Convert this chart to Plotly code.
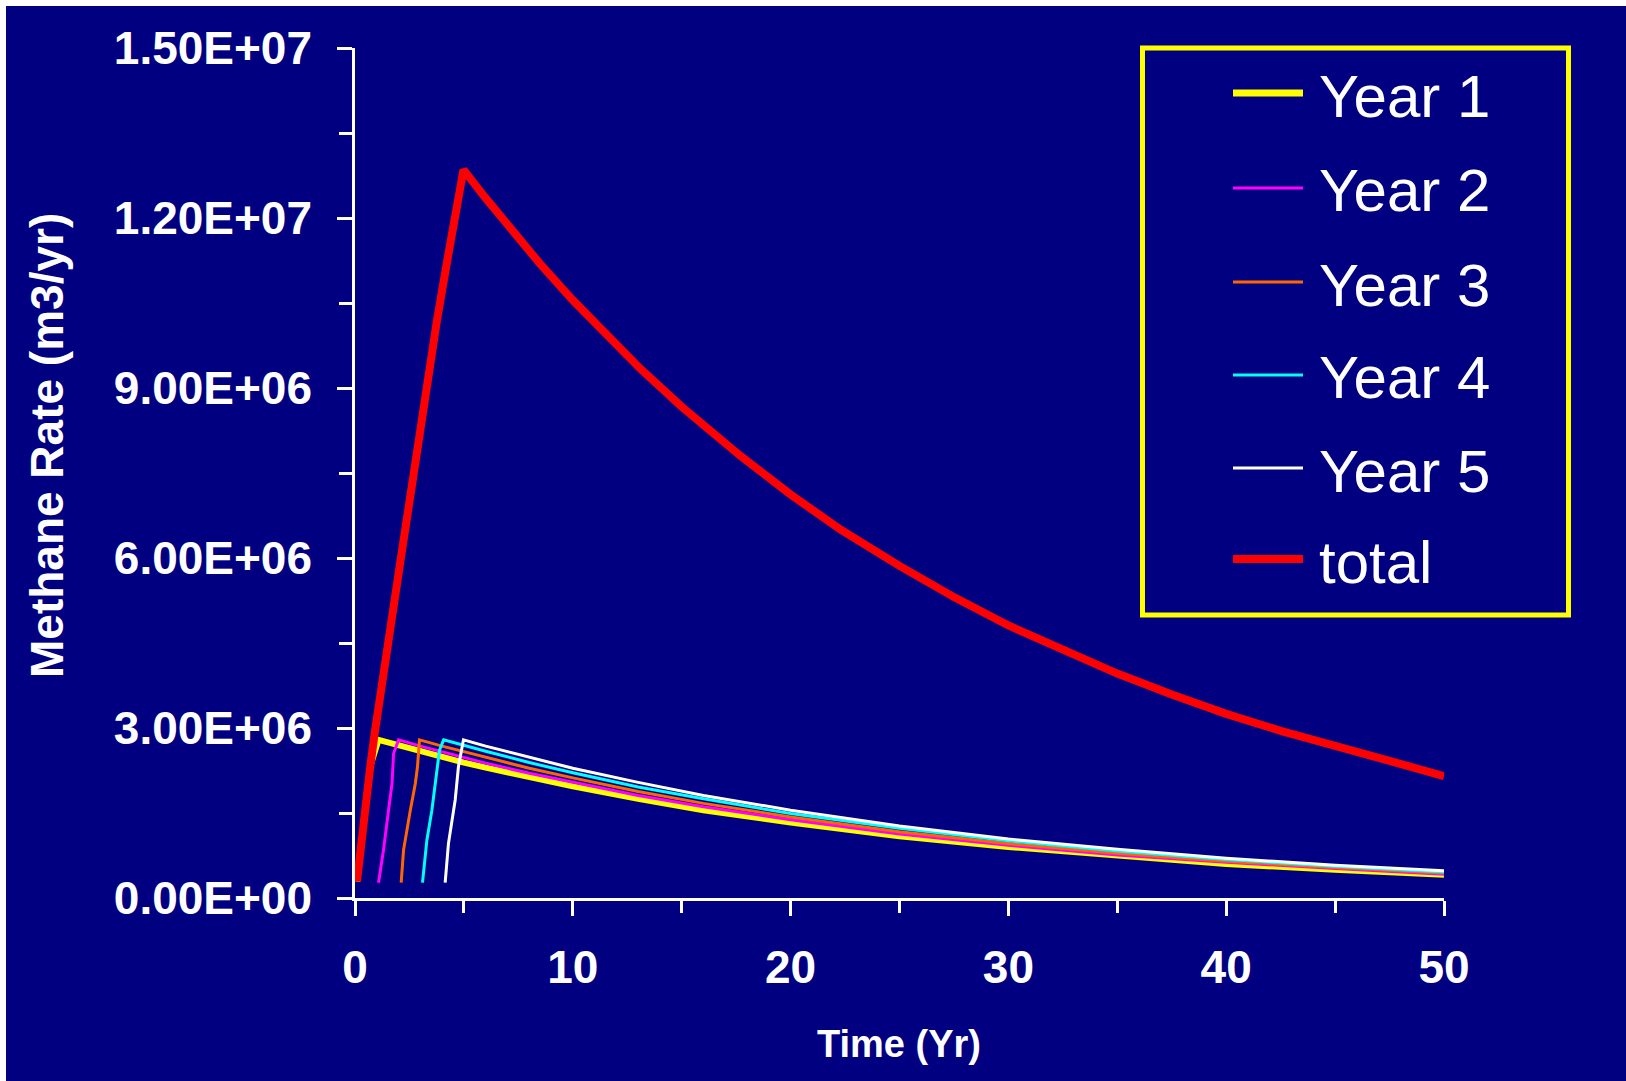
import plotly.graph_objects as go

# ---------------- data (rates in m3/yr) ----------------
year1_t = [0.09, 0.32, 0.70, 1.08, 2, 3, 4, 5, 6, 8, 10, 13, 16, 20, 25, 30, 35, 40, 45, 50]
year1_v = [0.29e6, 1.14e6, 2.32e6, 2.79e6, 2.69e6, 2.59e6, 2.49e6, 2.39e6, 2.30e6, 2.13e6,
           1.97e6, 1.75e6, 1.55e6, 1.33e6, 1.09e6, 0.90e6, 0.74e6, 0.60e6, 0.50e6, 0.41e6]

year2_t = [1.08, 1.31, 1.54, 1.70, 1.77, 2.0, 3, 4, 5, 6, 8, 10, 13, 16, 20, 25, 30, 35, 40, 45, 50]
year2_v = [0.27e6, 0.85e6, 1.55e6, 2.02e6, 2.55e6, 2.79e6, 2.68e6, 2.58e6, 2.48e6, 2.38e6, 2.20e6,
           2.04e6, 1.81e6, 1.61e6, 1.38e6, 1.13e6, 0.93e6, 0.76e6, 0.63e6, 0.52e6, 0.42e6]

year3_t = [2.12, 2.23, 2.54, 2.77, 2.87, 2.96, 4, 5, 6, 8, 10, 13, 16, 20, 25, 30, 35, 40, 45, 50]
year3_v = [0.27e6, 0.85e6, 1.55e6, 2.02e6, 2.32e6, 2.79e6, 2.68e6, 2.58e6, 2.48e6, 2.29e6,
           2.12e6, 1.88e6, 1.67e6, 1.43e6, 1.17e6, 0.96e6, 0.79e6, 0.65e6, 0.54e6, 0.44e6]

year4_t = [3.10, 3.30, 3.53, 3.76, 3.88, 4.07, 5, 6, 8, 10, 13, 16, 20, 25, 30, 35, 40, 45, 50]
year4_v = [0.27e6, 1.02e6, 1.55e6, 2.32e6, 2.61e6, 2.79e6, 2.69e6, 2.59e6, 2.39e6, 2.21e6,
           1.96e6, 1.75e6, 1.49e6, 1.23e6, 1.01e6, 0.83e6, 0.68e6, 0.56e6, 0.46e6]

year5_t = [4.14, 4.29, 4.60, 4.75, 4.95, 4.98, 6, 8, 10, 13, 16, 20, 25, 30, 35, 40, 45, 50]
year5_v = [0.27e6, 0.96e6, 1.73e6, 2.32e6, 2.73e6, 2.79e6, 2.68e6, 2.48e6, 2.29e6, 2.04e6,
           1.81e6, 1.55e6, 1.27e6, 1.04e6, 0.86e6, 0.70e6, 0.58e6, 0.48e6]

total_t = [0.09, 0.32, 0.70, 0.90, 1.25, 1.75, 2.15, 2.55, 2.92, 3.36, 3.75, 4.20, 4.52, 4.98,
           6, 7, 8.5, 10, 11.5, 13.1, 15, 17.7, 20, 22.3, 25, 27.5, 30, 32.5, 35, 37.5, 40,
           42.5, 45, 47.5, 50]
total_v = [0.29e6, 1.14e6, 2.32e6, 2.90e6, 3.74e6, 5.09e6, 6.11e6, 7.12e6, 8.13e6, 9.14e6,
           10.16e6, 11.17e6, 11.85e6, 12.85e6, 12.35e6, 11.87e6, 11.19e6, 10.55e6, 9.95e6,
           9.34e6, 8.67e6, 7.80e6, 7.12e6, 6.50e6, 5.86e6, 5.31e6, 4.81e6, 4.37e6, 3.96e6,
           3.59e6, 3.25e6, 2.95e6, 2.67e6, 2.42e6, 2.15e6]

series_names = ["Year 1", "Year 2", "Year 3", "Year 4", "Year 5", "total"]

y_tickvals = [0, 3e6, 6e6, 9e6, 12e6, 15e6]
y_ticktext = ["0.00E+00", "3.00E+06", "6.00E+06", "9.00E+06", "1.20E+07", "1.50E+07"]
x_tickvals = [0, 10, 20, 30, 40, 50]
x_ticktext = ["0", "10", "20", "30", "40", "50"]

# ---------------- styling ----------------
W, H = 1626, 1081
L, R, T, B = 355, 182, 48, 183
PW, PH = W - L - R, H - T - B
NAVY = "#000080"
FONT = "Liberation Sans, Arial, sans-serif"

colors = ["#FFFF00", "#FF00FF", "#FF6600", "#00FFFF", "#FFFFFF", "#FF0000"]
widths = [6, 3, 3, 3, 3, 8]
legend_widths = [7, 3, 3, 3, 3, 8]

def px(xp):
    return (xp - L) / PW

def py(yp):
    return (H - B - yp) / PH

data = [(year1_t, year1_v), (year2_t, year2_v), (year3_t, year3_v),
        (year4_t, year4_v), (year5_t, year5_v), (total_t, total_v)]

fig = go.Figure()
for (t, v), name, c, w in zip(data, series_names, colors, widths):
    fig.add_trace(go.Scatter(x=t, y=v, mode="lines", name=name, showlegend=False,
                             line=dict(color=c, width=w)))

tickfont = dict(family=FONT, size=46, color="white", weight="bold")

fig.update_layout(
    width=W, height=H,
    margin=dict(l=L, r=R, t=T, b=B, pad=0),
    paper_bgcolor=NAVY, plot_bgcolor=NAVY,
    showlegend=False,
    xaxis=dict(range=[0, 50], tickmode="array", tickvals=x_tickvals, ticktext=x_ticktext,
               showgrid=False, zeroline=False, showline=True, linecolor="white", linewidth=2.5,
               ticks="outside", ticklen=15, tickwidth=2.5, tickcolor="white",
               tickfont=tickfont, ticklabelstandoff=12,
               minor=dict(dtick=5, ticks="outside", ticklen=12, tickwidth=2.5,
                          tickcolor="white", showgrid=False)),
    yaxis=dict(range=[0, 1.5e7], tickmode="array", tickvals=y_tickvals, ticktext=y_ticktext,
               showgrid=False, zeroline=False, showline=True, linecolor="white", linewidth=2.5,
               ticks="outside", ticklen=15, tickwidth=2.5, tickcolor="white",
               tickfont=tickfont, ticklabelstandoff=16,
               minor=dict(dtick=1.5e6, ticks="outside", ticklen=13, tickwidth=2.5,
                          tickcolor="white", showgrid=False)),
)

shapes = []
annotations = []

# white strips at the top and left edges of the picture
shapes.append(dict(type="rect", xref="paper", yref="paper", x0=px(0), x1=px(W), y0=py(6), y1=py(0),
                   fillcolor="white", line=dict(width=0), layer="below"))
shapes.append(dict(type="rect", xref="paper", yref="paper", x0=px(0), x1=px(6), y0=py(H), y1=py(0),
                   fillcolor="white", line=dict(width=0), layer="below"))

# axis titles
annotations.append(dict(text="<b>Methane Rate (m3/yr)</b>", xref="paper", yref="paper",
                        x=px(47), y=py(446), xanchor="center", yanchor="middle", textangle=-90,
                        showarrow=False, font=dict(family=FONT, size=46, color="white")))
annotations.append(dict(text="<b>Time (Yr)</b>", xref="paper", yref="paper",
                        x=px(899), y=py(1044), xanchor="center", yanchor="middle",
                        showarrow=False, font=dict(family=FONT, size=38, color="white")))

# legend box drawn by hand
shapes.append(dict(type="rect", xref="paper", yref="paper", x0=px(1142.5), x1=px(1568.5),
                   y0=py(615), y1=py(48), line=dict(color="#FFFF00", width=5),
                   fillcolor=NAVY, layer="above"))
row_y = [93, 188, 282, 375, 468, 559]
for name, c, lw, yy in zip(series_names, colors, legend_widths, row_y):
    shapes.append(dict(type="line", xref="paper", yref="paper", x0=px(1233), x1=px(1303),
                       y0=py(yy), y1=py(yy), line=dict(color=c, width=lw), layer="above"))
    annotations.append(dict(text=name, xref="paper", yref="paper", x=px(1317), y=py(yy + 3),
                            xanchor="left", yanchor="middle", showarrow=False,
                            font=dict(family=FONT, size=60, color="white")))

fig.update_layout(shapes=shapes, annotations=annotations)
fig.write_html("out.html")
